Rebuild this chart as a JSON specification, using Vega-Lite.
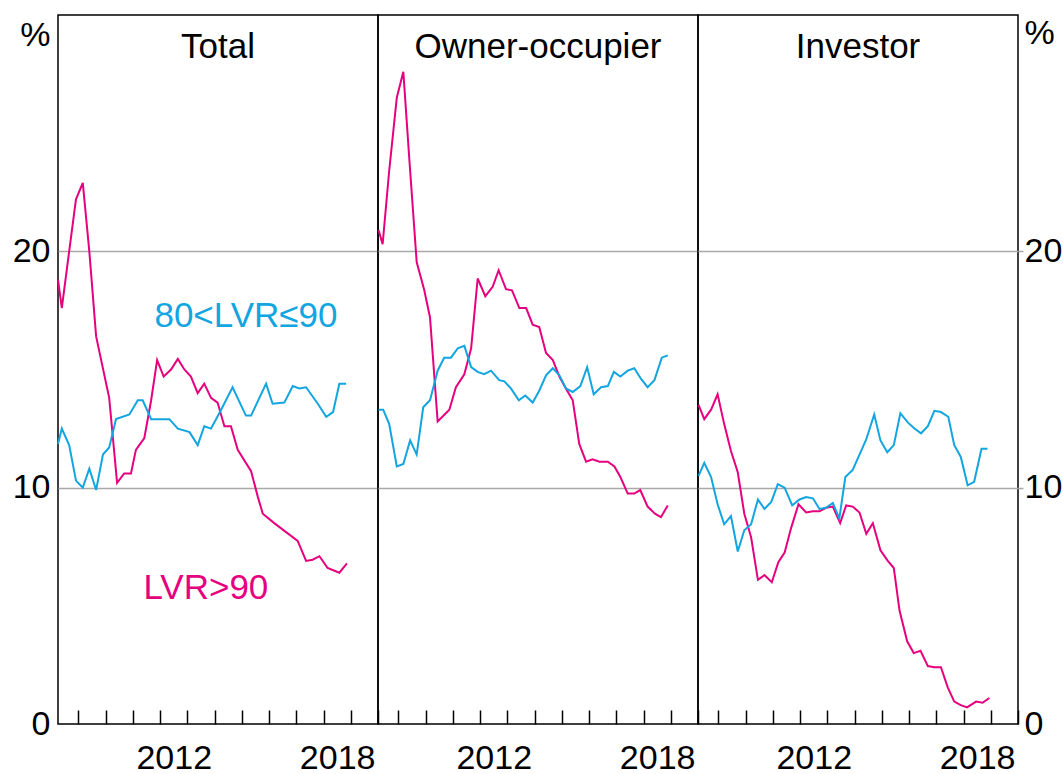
{
  "$schema": "https://vega.github.io/schema/vega-lite/v6.json",
  "background": "white",
  "padding": {"left": 11, "top": 14, "right": 2, "bottom": 2},
  "spacing": 0,
  "bounds": "flush",
  "config": {
    "font": "Liberation Sans",
    "view": {"stroke": "black", "strokeWidth": 1.5},
    "axis": {"labelFont": "Liberation Sans", "labelFontSize": 34, "labelColor": "black", "title": null, "labelOverlap": false}
  },
  "datasets": {
    "d": [
      {"p":"Total","s":"LVR>90","t":2008.25,"v":18.8},
      {"p":"Total","s":"LVR>90","t":2008.39,"v":17.6},
      {"p":"Total","s":"LVR>90","t":2008.66,"v":20.0},
      {"p":"Total","s":"LVR>90","t":2008.91,"v":22.2},
      {"p":"Total","s":"LVR>90","t":2009.16,"v":22.9},
      {"p":"Total","s":"LVR>90","t":2009.40,"v":20.0},
      {"p":"Total","s":"LVR>90","t":2009.65,"v":16.4},
      {"p":"Total","s":"LVR>90","t":2010.13,"v":13.8},
      {"p":"Total","s":"LVR>90","t":2010.42,"v":10.2},
      {"p":"Total","s":"LVR>90","t":2010.68,"v":10.6},
      {"p":"Total","s":"LVR>90","t":2010.93,"v":10.6},
      {"p":"Total","s":"LVR>90","t":2011.11,"v":11.6},
      {"p":"Total","s":"LVR>90","t":2011.42,"v":12.1},
      {"p":"Total","s":"LVR>90","t":2011.67,"v":13.7},
      {"p":"Total","s":"LVR>90","t":2011.89,"v":15.4},
      {"p":"Total","s":"LVR>90","t":2012.13,"v":14.7},
      {"p":"Total","s":"LVR>90","t":2012.40,"v":15.0},
      {"p":"Total","s":"LVR>90","t":2012.65,"v":15.45},
      {"p":"Total","s":"LVR>90","t":2012.89,"v":15.0},
      {"p":"Total","s":"LVR>90","t":2013.13,"v":14.7},
      {"p":"Total","s":"LVR>90","t":2013.38,"v":14.0},
      {"p":"Total","s":"LVR>90","t":2013.62,"v":14.4},
      {"p":"Total","s":"LVR>90","t":2013.87,"v":13.8},
      {"p":"Total","s":"LVR>90","t":2014.11,"v":13.6},
      {"p":"Total","s":"LVR>90","t":2014.36,"v":12.6},
      {"p":"Total","s":"LVR>90","t":2014.60,"v":12.6},
      {"p":"Total","s":"LVR>90","t":2014.85,"v":11.6},
      {"p":"Total","s":"LVR>90","t":2015.34,"v":10.7},
      {"p":"Total","s":"LVR>90","t":2015.59,"v":9.6},
      {"p":"Total","s":"LVR>90","t":2015.77,"v":8.9},
      {"p":"Total","s":"LVR>90","t":2016.19,"v":8.5},
      {"p":"Total","s":"LVR>90","t":2017.05,"v":7.75},
      {"p":"Total","s":"LVR>90","t":2017.36,"v":6.9},
      {"p":"Total","s":"LVR>90","t":2017.60,"v":6.95},
      {"p":"Total","s":"LVR>90","t":2017.85,"v":7.1},
      {"p":"Total","s":"LVR>90","t":2018.15,"v":6.6},
      {"p":"Total","s":"LVR>90","t":2018.58,"v":6.4},
      {"p":"Total","s":"LVR>90","t":2018.86,"v":6.8},

      {"p":"Total","s":"80<LVR≤90","t":2008.25,"v":11.85},
      {"p":"Total","s":"80<LVR≤90","t":2008.39,"v":12.5},
      {"p":"Total","s":"80<LVR≤90","t":2008.66,"v":11.8},
      {"p":"Total","s":"80<LVR≤90","t":2008.91,"v":10.3},
      {"p":"Total","s":"80<LVR≤90","t":2009.16,"v":10.0},
      {"p":"Total","s":"80<LVR≤90","t":2009.40,"v":10.8},
      {"p":"Total","s":"80<LVR≤90","t":2009.65,"v":9.9},
      {"p":"Total","s":"80<LVR≤90","t":2009.90,"v":11.4},
      {"p":"Total","s":"80<LVR≤90","t":2010.13,"v":11.7},
      {"p":"Total","s":"80<LVR≤90","t":2010.38,"v":12.9},
      {"p":"Total","s":"80<LVR≤90","t":2010.87,"v":13.1},
      {"p":"Total","s":"80<LVR≤90","t":2011.18,"v":13.7},
      {"p":"Total","s":"80<LVR≤90","t":2011.36,"v":13.7},
      {"p":"Total","s":"80<LVR≤90","t":2011.67,"v":12.9},
      {"p":"Total","s":"80<LVR≤90","t":2012.34,"v":12.9},
      {"p":"Total","s":"80<LVR≤90","t":2012.65,"v":12.5},
      {"p":"Total","s":"80<LVR≤90","t":2013.08,"v":12.35},
      {"p":"Total","s":"80<LVR≤90","t":2013.38,"v":11.8},
      {"p":"Total","s":"80<LVR≤90","t":2013.62,"v":12.6},
      {"p":"Total","s":"80<LVR≤90","t":2013.87,"v":12.5},
      {"p":"Total","s":"80<LVR≤90","t":2014.24,"v":13.3},
      {"p":"Total","s":"80<LVR≤90","t":2014.66,"v":14.25},
      {"p":"Total","s":"80<LVR≤90","t":2015.15,"v":13.05},
      {"p":"Total","s":"80<LVR≤90","t":2015.34,"v":13.05},
      {"p":"Total","s":"80<LVR≤90","t":2015.89,"v":14.4},
      {"p":"Total","s":"80<LVR≤90","t":2016.13,"v":13.55},
      {"p":"Total","s":"80<LVR≤90","t":2016.56,"v":13.6},
      {"p":"Total","s":"80<LVR≤90","t":2016.87,"v":14.3},
      {"p":"Total","s":"80<LVR≤90","t":2017.11,"v":14.2},
      {"p":"Total","s":"80<LVR≤90","t":2017.36,"v":14.25},
      {"p":"Total","s":"80<LVR≤90","t":2017.79,"v":13.55},
      {"p":"Total","s":"80<LVR≤90","t":2018.10,"v":13.0},
      {"p":"Total","s":"80<LVR≤90","t":2018.35,"v":13.2},
      {"p":"Total","s":"80<LVR≤90","t":2018.58,"v":14.4},
      {"p":"Total","s":"80<LVR≤90","t":2018.83,"v":14.4},

      {"p":"Owner","s":"LVR>90","t":2008.27,"v":20.9},
      {"p":"Owner","s":"LVR>90","t":2008.42,"v":20.3},
      {"p":"Owner","s":"LVR>90","t":2008.66,"v":23.4},
      {"p":"Owner","s":"LVR>90","t":2008.94,"v":26.5},
      {"p":"Owner","s":"LVR>90","t":2009.18,"v":27.6},
      {"p":"Owner","s":"LVR>90","t":2009.40,"v":23.9},
      {"p":"Owner","s":"LVR>90","t":2009.67,"v":19.55},
      {"p":"Owner","s":"LVR>90","t":2009.95,"v":18.35},
      {"p":"Owner","s":"LVR>90","t":2010.16,"v":17.2},
      {"p":"Owner","s":"LVR>90","t":2010.44,"v":12.8},
      {"p":"Owner","s":"LVR>90","t":2010.87,"v":13.3},
      {"p":"Owner","s":"LVR>90","t":2011.11,"v":14.25},
      {"p":"Owner","s":"LVR>90","t":2011.42,"v":14.8},
      {"p":"Owner","s":"LVR>90","t":2011.67,"v":15.9},
      {"p":"Owner","s":"LVR>90","t":2011.91,"v":18.85},
      {"p":"Owner","s":"LVR>90","t":2012.19,"v":18.1},
      {"p":"Owner","s":"LVR>90","t":2012.46,"v":18.5},
      {"p":"Owner","s":"LVR>90","t":2012.68,"v":19.2},
      {"p":"Owner","s":"LVR>90","t":2012.95,"v":18.4},
      {"p":"Owner","s":"LVR>90","t":2013.17,"v":18.35},
      {"p":"Owner","s":"LVR>90","t":2013.44,"v":17.6},
      {"p":"Owner","s":"LVR>90","t":2013.69,"v":17.6},
      {"p":"Owner","s":"LVR>90","t":2013.93,"v":16.9},
      {"p":"Owner","s":"LVR>90","t":2014.17,"v":16.8},
      {"p":"Owner","s":"LVR>90","t":2014.42,"v":15.7},
      {"p":"Owner","s":"LVR>90","t":2014.67,"v":15.4},
      {"p":"Owner","s":"LVR>90","t":2014.91,"v":14.7},
      {"p":"Owner","s":"LVR>90","t":2015.15,"v":14.2},
      {"p":"Owner","s":"LVR>90","t":2015.40,"v":13.7},
      {"p":"Owner","s":"LVR>90","t":2015.64,"v":11.85},
      {"p":"Owner","s":"LVR>90","t":2015.89,"v":11.1},
      {"p":"Owner","s":"LVR>90","t":2016.13,"v":11.2},
      {"p":"Owner","s":"LVR>90","t":2016.38,"v":11.1},
      {"p":"Owner","s":"LVR>90","t":2016.69,"v":11.1},
      {"p":"Owner","s":"LVR>90","t":2016.93,"v":10.9},
      {"p":"Owner","s":"LVR>90","t":2017.15,"v":10.45},
      {"p":"Owner","s":"LVR>90","t":2017.42,"v":9.75},
      {"p":"Owner","s":"LVR>90","t":2017.66,"v":9.75},
      {"p":"Owner","s":"LVR>90","t":2017.88,"v":9.9},
      {"p":"Owner","s":"LVR>90","t":2018.15,"v":9.2},
      {"p":"Owner","s":"LVR>90","t":2018.42,"v":8.9},
      {"p":"Owner","s":"LVR>90","t":2018.64,"v":8.75},
      {"p":"Owner","s":"LVR>90","t":2018.89,"v":9.25},

      {"p":"Owner","s":"80<LVR≤90","t":2008.27,"v":13.3},
      {"p":"Owner","s":"80<LVR≤90","t":2008.44,"v":13.3},
      {"p":"Owner","s":"80<LVR≤90","t":2008.66,"v":12.7},
      {"p":"Owner","s":"80<LVR≤90","t":2008.94,"v":10.9},
      {"p":"Owner","s":"80<LVR≤90","t":2009.18,"v":11.0},
      {"p":"Owner","s":"80<LVR≤90","t":2009.43,"v":12.0},
      {"p":"Owner","s":"80<LVR≤90","t":2009.67,"v":11.4},
      {"p":"Owner","s":"80<LVR≤90","t":2009.91,"v":13.4},
      {"p":"Owner","s":"80<LVR≤90","t":2010.16,"v":13.7},
      {"p":"Owner","s":"80<LVR≤90","t":2010.44,"v":14.95},
      {"p":"Owner","s":"80<LVR≤90","t":2010.68,"v":15.5},
      {"p":"Owner","s":"80<LVR≤90","t":2010.93,"v":15.5},
      {"p":"Owner","s":"80<LVR≤90","t":2011.18,"v":15.9},
      {"p":"Owner","s":"80<LVR≤90","t":2011.42,"v":16.0},
      {"p":"Owner","s":"80<LVR≤90","t":2011.67,"v":15.1},
      {"p":"Owner","s":"80<LVR≤90","t":2011.91,"v":14.9},
      {"p":"Owner","s":"80<LVR≤90","t":2012.15,"v":14.8},
      {"p":"Owner","s":"80<LVR≤90","t":2012.40,"v":14.95},
      {"p":"Owner","s":"80<LVR≤90","t":2012.70,"v":14.55},
      {"p":"Owner","s":"80<LVR≤90","t":2012.89,"v":14.5},
      {"p":"Owner","s":"80<LVR≤90","t":2013.13,"v":14.2},
      {"p":"Owner","s":"80<LVR≤90","t":2013.42,"v":13.7},
      {"p":"Owner","s":"80<LVR≤90","t":2013.66,"v":13.9},
      {"p":"Owner","s":"80<LVR≤90","t":2013.93,"v":13.6},
      {"p":"Owner","s":"80<LVR≤90","t":2014.17,"v":14.1},
      {"p":"Owner","s":"80<LVR≤90","t":2014.42,"v":14.75},
      {"p":"Owner","s":"80<LVR≤90","t":2014.67,"v":15.05},
      {"p":"Owner","s":"80<LVR≤90","t":2014.91,"v":14.75},
      {"p":"Owner","s":"80<LVR≤90","t":2015.15,"v":14.2},
      {"p":"Owner","s":"80<LVR≤90","t":2015.40,"v":14.05},
      {"p":"Owner","s":"80<LVR≤90","t":2015.68,"v":14.3},
      {"p":"Owner","s":"80<LVR≤90","t":2015.93,"v":15.1},
      {"p":"Owner","s":"80<LVR≤90","t":2016.17,"v":13.95},
      {"p":"Owner","s":"80<LVR≤90","t":2016.44,"v":14.25},
      {"p":"Owner","s":"80<LVR≤90","t":2016.69,"v":14.3},
      {"p":"Owner","s":"80<LVR≤90","t":2016.91,"v":14.9},
      {"p":"Owner","s":"80<LVR≤90","t":2017.15,"v":14.7},
      {"p":"Owner","s":"80<LVR≤90","t":2017.42,"v":14.95},
      {"p":"Owner","s":"80<LVR≤90","t":2017.66,"v":15.05},
      {"p":"Owner","s":"80<LVR≤90","t":2017.91,"v":14.6},
      {"p":"Owner","s":"80<LVR≤90","t":2018.15,"v":14.25},
      {"p":"Owner","s":"80<LVR≤90","t":2018.40,"v":14.55},
      {"p":"Owner","s":"80<LVR≤90","t":2018.67,"v":15.5},
      {"p":"Owner","s":"80<LVR≤90","t":2018.89,"v":15.6},

      {"p":"Investor","s":"LVR>90","t":2008.27,"v":13.5},
      {"p":"Investor","s":"LVR>90","t":2008.48,"v":12.9},
      {"p":"Investor","s":"LVR>90","t":2008.73,"v":13.3},
      {"p":"Investor","s":"LVR>90","t":2008.97,"v":13.95},
      {"p":"Investor","s":"LVR>90","t":2009.21,"v":12.7},
      {"p":"Investor","s":"LVR>90","t":2009.46,"v":11.55},
      {"p":"Investor","s":"LVR>90","t":2009.71,"v":10.65},
      {"p":"Investor","s":"LVR>90","t":2009.95,"v":8.9},
      {"p":"Investor","s":"LVR>90","t":2010.20,"v":7.9},
      {"p":"Investor","s":"LVR>90","t":2010.45,"v":6.1},
      {"p":"Investor","s":"LVR>90","t":2010.69,"v":6.3},
      {"p":"Investor","s":"LVR>90","t":2010.96,"v":6.0},
      {"p":"Investor","s":"LVR>90","t":2011.20,"v":6.85},
      {"p":"Investor","s":"LVR>90","t":2011.43,"v":7.25},
      {"p":"Investor","s":"LVR>90","t":2011.67,"v":8.3},
      {"p":"Investor","s":"LVR>90","t":2011.94,"v":9.3},
      {"p":"Investor","s":"LVR>90","t":2012.22,"v":8.95},
      {"p":"Investor","s":"LVR>90","t":2012.47,"v":9.0},
      {"p":"Investor","s":"LVR>90","t":2012.71,"v":9.0},
      {"p":"Investor","s":"LVR>90","t":2012.95,"v":9.15},
      {"p":"Investor","s":"LVR>90","t":2013.20,"v":9.2},
      {"p":"Investor","s":"LVR>90","t":2013.47,"v":8.5},
      {"p":"Investor","s":"LVR>90","t":2013.69,"v":9.25},
      {"p":"Investor","s":"LVR>90","t":2013.93,"v":9.2},
      {"p":"Investor","s":"LVR>90","t":2014.18,"v":8.95},
      {"p":"Investor","s":"LVR>90","t":2014.43,"v":8.05},
      {"p":"Investor","s":"LVR>90","t":2014.67,"v":8.5},
      {"p":"Investor","s":"LVR>90","t":2014.95,"v":7.35},
      {"p":"Investor","s":"LVR>90","t":2015.22,"v":6.9},
      {"p":"Investor","s":"LVR>90","t":2015.44,"v":6.6},
      {"p":"Investor","s":"LVR>90","t":2015.65,"v":4.8},
      {"p":"Investor","s":"LVR>90","t":2015.93,"v":3.5},
      {"p":"Investor","s":"LVR>90","t":2016.17,"v":3.0},
      {"p":"Investor","s":"LVR>90","t":2016.42,"v":3.1},
      {"p":"Investor","s":"LVR>90","t":2016.69,"v":2.45},
      {"p":"Investor","s":"LVR>90","t":2016.93,"v":2.4},
      {"p":"Investor","s":"LVR>90","t":2017.17,"v":2.4},
      {"p":"Investor","s":"LVR>90","t":2017.42,"v":1.55},
      {"p":"Investor","s":"LVR>90","t":2017.66,"v":0.95},
      {"p":"Investor","s":"LVR>90","t":2017.90,"v":0.8},
      {"p":"Investor","s":"LVR>90","t":2018.13,"v":0.7},
      {"p":"Investor","s":"LVR>90","t":2018.46,"v":0.95},
      {"p":"Investor","s":"LVR>90","t":2018.70,"v":0.9},
      {"p":"Investor","s":"LVR>90","t":2018.95,"v":1.1},

      {"p":"Investor","s":"80<LVR≤90","t":2008.27,"v":10.5},
      {"p":"Investor","s":"80<LVR≤90","t":2008.48,"v":11.05},
      {"p":"Investor","s":"80<LVR≤90","t":2008.73,"v":10.45},
      {"p":"Investor","s":"80<LVR≤90","t":2008.97,"v":9.3},
      {"p":"Investor","s":"80<LVR≤90","t":2009.21,"v":8.45},
      {"p":"Investor","s":"80<LVR≤90","t":2009.46,"v":8.8},
      {"p":"Investor","s":"80<LVR≤90","t":2009.71,"v":7.3},
      {"p":"Investor","s":"80<LVR≤90","t":2009.95,"v":8.2},
      {"p":"Investor","s":"80<LVR≤90","t":2010.20,"v":8.45},
      {"p":"Investor","s":"80<LVR≤90","t":2010.45,"v":9.5},
      {"p":"Investor","s":"80<LVR≤90","t":2010.69,"v":9.1},
      {"p":"Investor","s":"80<LVR≤90","t":2010.94,"v":9.4},
      {"p":"Investor","s":"80<LVR≤90","t":2011.18,"v":10.15},
      {"p":"Investor","s":"80<LVR≤90","t":2011.43,"v":10.0},
      {"p":"Investor","s":"80<LVR≤90","t":2011.71,"v":9.25},
      {"p":"Investor","s":"80<LVR≤90","t":2011.98,"v":9.5},
      {"p":"Investor","s":"80<LVR≤90","t":2012.22,"v":9.6},
      {"p":"Investor","s":"80<LVR≤90","t":2012.47,"v":9.55},
      {"p":"Investor","s":"80<LVR≤90","t":2012.71,"v":9.1},
      {"p":"Investor","s":"80<LVR≤90","t":2012.95,"v":9.15},
      {"p":"Investor","s":"80<LVR≤90","t":2013.20,"v":9.35},
      {"p":"Investor","s":"80<LVR≤90","t":2013.44,"v":8.7},
      {"p":"Investor","s":"80<LVR≤90","t":2013.66,"v":10.45},
      {"p":"Investor","s":"80<LVR≤90","t":2013.93,"v":10.75},
      {"p":"Investor","s":"80<LVR≤90","t":2014.18,"v":11.4},
      {"p":"Investor","s":"80<LVR≤90","t":2014.43,"v":12.05},
      {"p":"Investor","s":"80<LVR≤90","t":2014.72,"v":13.1},
      {"p":"Investor","s":"80<LVR≤90","t":2014.95,"v":12.0},
      {"p":"Investor","s":"80<LVR≤90","t":2015.20,"v":11.5},
      {"p":"Investor","s":"80<LVR≤90","t":2015.44,"v":11.8},
      {"p":"Investor","s":"80<LVR≤90","t":2015.68,"v":13.15},
      {"p":"Investor","s":"80<LVR≤90","t":2015.96,"v":12.75},
      {"p":"Investor","s":"80<LVR≤90","t":2016.20,"v":12.5},
      {"p":"Investor","s":"80<LVR≤90","t":2016.44,"v":12.3},
      {"p":"Investor","s":"80<LVR≤90","t":2016.69,"v":12.6},
      {"p":"Investor","s":"80<LVR≤90","t":2016.93,"v":13.25},
      {"p":"Investor","s":"80<LVR≤90","t":2017.17,"v":13.2},
      {"p":"Investor","s":"80<LVR≤90","t":2017.44,"v":13.0},
      {"p":"Investor","s":"80<LVR≤90","t":2017.66,"v":11.8},
      {"p":"Investor","s":"80<LVR≤90","t":2017.90,"v":11.3},
      {"p":"Investor","s":"80<LVR≤90","t":2018.15,"v":10.1},
      {"p":"Investor","s":"80<LVR≤90","t":2018.39,"v":10.25},
      {"p":"Investor","s":"80<LVR≤90","t":2018.66,"v":11.65},
      {"p":"Investor","s":"80<LVR≤90","t":2018.88,"v":11.65}
    ]
  },
  "hconcat": [
    {
      "width": 320, "height": 709,
      "layer": [
        {
          "data": {"name": "d"},
          "transform": [{"filter": "datum.p == 'Total'"}],
          "mark": {"type": "line", "strokeWidth": 2},
          "encoding": {
            "x": {"field": "t", "type": "quantitative", "scale": {"domain": [2008.25, 2020], "nice": false, "zero": false},
              "axis": {"values": [2009,2010,2011,2012,2013,2014,2015,2016,2017,2018,2019,2020], "tickCount": 24, "offset": -14, "tickSize": 14, "tickColor": "black", "tickWidth": 1.5, "domain": false, "grid": false, "labelExpr": "datum.value == 2012 ? '2012' : (datum.value == 2018 ? '2018' : '')", "labelOffset": 13.6, "labelPadding": 17, "labelBaseline": "top", "labelFlush": false}},
            "y": {"field": "v", "type": "quantitative", "scale": {"domain": [0, 30], "nice": false},
              "axis": {"orient": "left", "values": [0,10,20,30], "tickCount": 10, "ticks": false, "domain": false, "labelPadding": 8, "labelBaseline": "middle", "labelExpr": "datum.value == 30 ? '%' : '' + datum.value", "labelOffset": {"condition": {"test": "datum.value == 30", "value": 20}, "value": 0}, "grid": true, "gridColor": "#a8a8a8", "gridWidth": 1.5, "gridOpacity": {"condition": {"test": "datum.value == 10 || datum.value == 20", "value": 1}, "value": 0}}},
            "color": {"field": "s", "type": "nominal", "scale": {"domain": ["LVR>90", "80<LVR≤90"], "range": ["#e6007e", "#12a5e0"]}, "legend": null}
          }
        },
        {
          "data": {"values": [{}]},
          "mark": {"type": "text", "fontSize": 35, "color": "black", "font": "Liberation Sans"},
          "encoding": {"x": {"datum": 2014.125}, "y": {"datum": 28.64}, "text": {"value": "Total"}}
        },
        {
          "data": {"values": [{}]},
          "mark": {"type": "text", "fontSize": 35, "color": "#12a5e0", "font": "Liberation Sans"},
          "encoding": {"x": {"datum": 2015.15}, "y": {"datum": 17.25}, "text": {"value": "80<LVR≤90"}}
        },
        {
          "data": {"values": [{}]},
          "mark": {"type": "text", "fontSize": 35, "color": "#e6007e", "font": "Liberation Sans"},
          "encoding": {"x": {"datum": 2013.68}, "y": {"datum": 5.76}, "text": {"value": "LVR>90"}}
        }
      ]
    },
    {
      "width": 320, "height": 709,
      "layer": [
        {
          "data": {"name": "d"},
          "transform": [{"filter": "datum.p == 'Owner'"}],
          "mark": {"type": "line", "strokeWidth": 2},
          "encoding": {
            "x": {"field": "t", "type": "quantitative", "scale": {"domain": [2008.25, 2020], "nice": false, "zero": false},
              "axis": {"values": [2009,2010,2011,2012,2013,2014,2015,2016,2017,2018,2019,2020], "tickCount": 24, "offset": -14, "tickSize": 14, "tickColor": "black", "tickWidth": 1.5, "domain": false, "grid": false, "labelExpr": "datum.value == 2012 ? '2012' : (datum.value == 2018 ? '2018' : '')", "labelOffset": 13.6, "labelPadding": 17, "labelBaseline": "top", "labelFlush": false}},
            "y": {"field": "v", "type": "quantitative", "scale": {"domain": [0, 30], "nice": false},
              "axis": {"values": [10,20], "tickCount": 10, "labels": false, "ticks": false, "domain": false, "grid": true, "gridColor": "#a8a8a8", "gridWidth": 1.5}},
            "color": {"field": "s", "type": "nominal", "scale": {"domain": ["LVR>90", "80<LVR≤90"], "range": ["#e6007e", "#12a5e0"]}, "legend": null}
          }
        },
        {
          "data": {"values": [{}]},
          "mark": {"type": "text", "fontSize": 35, "color": "black", "font": "Liberation Sans"},
          "encoding": {"x": {"datum": 2014.125}, "y": {"datum": 28.64}, "text": {"value": "Owner-occupier"}}
        }
      ]
    },
    {
      "width": 320, "height": 709,
      "layer": [
        {
          "data": {"name": "d"},
          "transform": [{"filter": "datum.p == 'Investor'"}],
          "mark": {"type": "line", "strokeWidth": 2},
          "encoding": {
            "x": {"field": "t", "type": "quantitative", "scale": {"domain": [2008.25, 2020], "nice": false, "zero": false},
              "axis": {"values": [2009,2010,2011,2012,2013,2014,2015,2016,2017,2018,2019,2020], "tickCount": 24, "offset": -14, "tickSize": 14, "tickColor": "black", "tickWidth": 1.5, "domain": false, "grid": false, "labelExpr": "datum.value == 2012 ? '2012' : (datum.value == 2018 ? '2018' : '')", "labelOffset": 13.6, "labelPadding": 17, "labelBaseline": "top", "labelFlush": false}},
            "y": {"field": "v", "type": "quantitative", "scale": {"domain": [0, 30], "nice": false},
              "axis": {"orient": "right", "values": [0,10,20,30], "tickCount": 10, "ticks": true, "tickSize": 5, "tickColor": "#a8a8a8", "tickWidth": 1.5, "tickOpacity": {"condition": {"test": "datum.value == 10 || datum.value == 20", "value": 1}, "value": 0}, "domain": false, "labelPadding": 1, "labelAlign": "left", "labelBaseline": "middle", "labelExpr": "datum.value == 30 ? '%' : '' + datum.value", "labelOffset": {"condition": {"test": "datum.value == 30", "value": 18}, "value": 0}, "grid": true, "gridColor": "#a8a8a8", "gridWidth": 1.5, "gridOpacity": {"condition": {"test": "datum.value == 10 || datum.value == 20", "value": 1}, "value": 0}}},
            "color": {"field": "s", "type": "nominal", "scale": {"domain": ["LVR>90", "80<LVR≤90"], "range": ["#e6007e", "#12a5e0"]}, "legend": null}
          }
        },
        {
          "data": {"values": [{}]},
          "mark": {"type": "text", "fontSize": 35, "color": "black", "font": "Liberation Sans"},
          "encoding": {"x": {"datum": 2014.125}, "y": {"datum": 28.64}, "text": {"value": "Investor"}}
        }
      ]
    }
  ]
}
